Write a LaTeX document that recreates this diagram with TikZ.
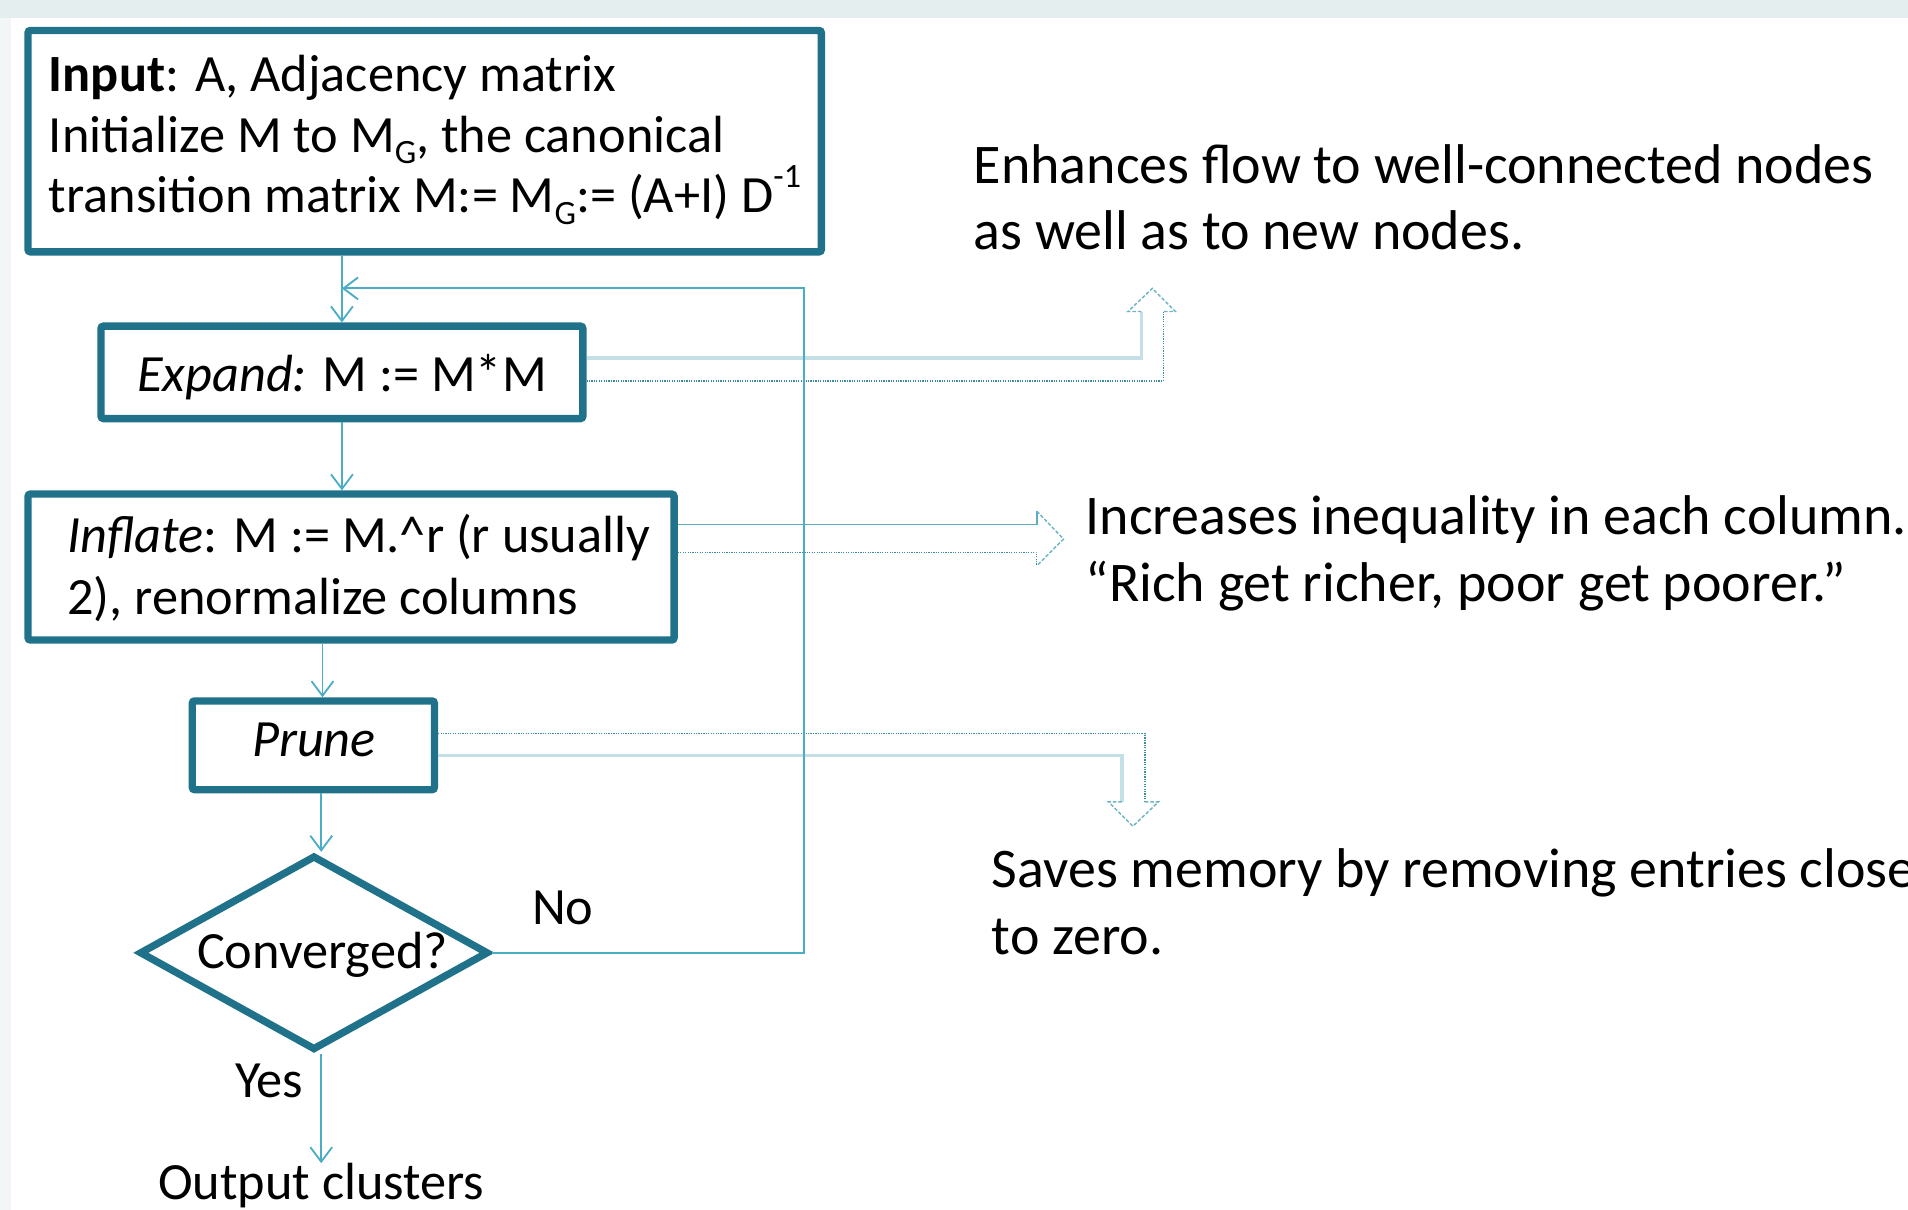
\documentclass[tikz,border=0pt]{standalone}
\usepackage{fontspec}
\setmainfont{Carlito}
\usetikzlibrary{arrows.meta,shapes.geometric}

\definecolor{boxc}{RGB}{31,114,137}
\definecolor{flowc}{RGB}{75,172,198}
\definecolor{bandc}{RGB}{229,238,238}
\definecolor{stripc}{RGB}{242,246,246}
\definecolor{palec}{RGB}{197,223,230}
\definecolor{dotc}{RGB}{60,140,160}
\definecolor{headc}{RGB}{110,180,198}
\definecolor{thinc}{RGB}{95,172,192}

\newcommand\diagfont{\fontsize{43}{51}\selectfont}
\newcommand\notefont{\fontsize{46}{54}\selectfont}
\newcommand\subG{\raisebox{-0.22em}{\fontsize{28}{28}\selectfont G}}
\newcommand\supinv{\raisebox{0.48em}{\fontsize{28}{28}\selectfont -1}}

\tikzset{
  procbox/.style={draw=boxc, line width=6pt, rounded corners=2pt, fill=white, inner sep=0pt},
  lbl/.style={font=\diagfont, inner sep=0pt, text=black},
  note/.style={font=\notefont, inner sep=0pt, text=black},
  flow/.style={draw=flowc, line width=1.5pt, -{Straight Barb[length=12pt,width=18pt]}},
  loopline/.style={draw=flowc, line width=1.5pt},
  palearm/.style={draw=palec, line width=3pt},
  thinarm/.style={draw=thinc, line width=1.5pt},
  dotarm/.style={draw=dotc, line width=1.2pt, dash pattern=on 1pt off 1pt},
  headline/.style={draw=headc, line width=1.2pt, dash pattern=on 3pt off 1.5pt, line join=miter}
}

\begin{document}
\begin{tikzpicture}[x=1pt,y=-1pt]
\useasboundingbox (0,0) rectangle (1568,994);
\clip (0,0) rectangle (1568,994);

% page background
\fill[stripc] (0,0) rectangle (1568,994);
\fill[bandc] (0,0) rectangle (1568,15);
\fill[white] (9,15) rectangle (1568,994);

% process boxes
\node[procbox, minimum width=652pt, minimum height=182pt] (inp) at (349,116) {};
\node[procbox, minimum width=396pt, minimum height=76pt] (exp) at (281,306) {};
\node[procbox, minimum width=531pt, minimum height=120pt] (inf) at (288.5,466) {};
\node[procbox, minimum width=199pt, minimum height=73pt] (prn) at (257.5,612.5) {};
\node[diamond, draw=boxc, line width=6pt, fill=white, inner sep=0pt,
      minimum width=287pt, minimum height=160pt] (dia) at (258,783) {};

% box texts
\node[lbl, anchor=base west] (inp1) at (40,75) {\textbf{Input}: A, Adjacency matrix};
\node[lbl, anchor=base west] (inp2) at (40,125) {Initialize M to M\subG, the canonical};
\node[lbl, anchor=base west] (inp3) at (40,175) {transition matrix M:= M\subG:= (A+I) D\supinv};
\node[lbl, anchor=base] (expt) at (281,322) {\textit{Expand:} M := M*M};
\node[lbl, anchor=base west] (inf1) at (55,454) {\textit{Inflate}: M := M.\textasciicircum r (r usually};
\node[lbl, anchor=base west] (inf2) at (55,505) {2), renormalize columns};
\node[lbl, anchor=base] (prnt) at (258,622) {\textit{Prune}};
\node[lbl, anchor=base] (diat) at (265,796) {Converged?};
\node[lbl, anchor=base west] (no) at (437,760) {No};
\node[lbl, anchor=base west] (yes) at (193,902) {Yes};
\node[lbl, anchor=base] (out) at (264,986) {Output clusters};

% side notes
\node[note, anchor=base west] (n1a) at (800,151) {Enhances flow to well-connected nodes};
\node[note, anchor=base west] (n1b) at (800,205) {as well as to new nodes.};
\node[note, anchor=base west] (n2a) at (892,439) {Increases inequality in each column.};
\node[note, anchor=base west] (n2b) at (892,494) {“Rich get richer, poor get poorer.”};
\node[note, anchor=base west] (n3a) at (815,729) {Saves memory by removing entries close};
\node[note, anchor=base west] (n3b) at (815,784) {to zero.};

% hollow bent arrow: Expand -> up
\draw[palearm] (exp.east |- 0,294) -- (938,294) -- (938,256);
\draw[dotarm] (exp.east |- 0,313) -- (956,313) -- (956,256);
\draw[headline] (938,256) -- (927,256) -- (947,237) -- (966,256) -- (956,256);

% hollow arrow: Inflate -> right
\draw[thinarm] (inf.east |- 0,431) -- (852,431) -- (852,420);
\draw[dotarm] (inf.east |- 0,454) -- (852,454) -- (852,465);
\draw[headline] (852,420) -- (874,443) -- (852,465);

% hollow bent arrow: Prune -> down
\draw[dotarm] (prn.east |- 0,603) -- (941,603) -- (941,659);
\draw[palearm] (prn.east |- 0,621) -- (922,621) -- (922,659);
\draw[headline] (922,659) -- (911,659) -- (931,679) -- (952,659) -- (941,659);

% main flow
\draw[flow] (exp.north |- inp.south) -- (exp.north);
\draw[flow] (exp.south) -- (exp.south |- inf.north);
\draw[flow] ([xshift=7.5pt]prn.north |- inf.south) -- ([xshift=7.5pt]prn.north);
\draw[flow] ([xshift=6.5pt]prn.south) -- ([xshift=6.5pt]prn.south |- dia.north);
\draw[flow] ([xshift=6pt]dia.south) -- ([xshift=6pt]dia.south |- out.north);

% loop back when not converged
\coordinate (loopc) at (661,237);
\draw[loopline, -{Straight Barb[length=12pt,width=18pt]}]
  (dia.east) -| (loopc) -- (exp.north |- loopc);
\end{tikzpicture}
\end{document}
